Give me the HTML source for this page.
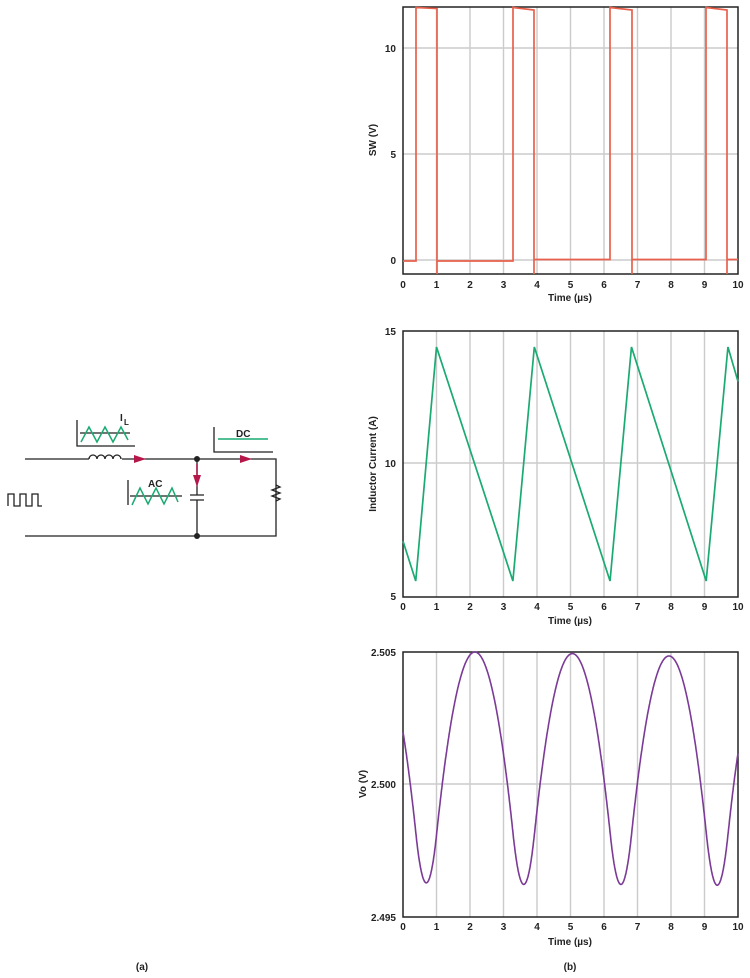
<!DOCTYPE html>
<html><head><meta charset="utf-8"><style>
body{margin:0;background:#fff;width:750px;height:978px;overflow:hidden}
svg{display:block}
text{font-family:"Liberation Sans",sans-serif;font-weight:bold;fill:#222}
.t{font-size:10px}
.g{stroke:#cbcbcb;stroke-width:1.4}
.ax{fill:none;stroke:#222;stroke-width:1.5}
</style></head><body>
<svg id="s" width="750" height="978" viewBox="0 0 750 978" xmlns="http://www.w3.org/2000/svg">
<g id="grids"></g>
<rect class="ax" x="403" y="7" width="335" height="267"/>
<text class="t" x="396" y="52" text-anchor="end">10</text>
<text class="t" x="396" y="158" text-anchor="end">5</text>
<text class="t" x="396" y="264" text-anchor="end">0</text>
<text class="t" transform="translate(376,140) rotate(-90)" text-anchor="middle">SW (V)</text>
<text class="t" x="570" y="301" text-anchor="middle">Time (µs)</text>
<polyline fill="none" stroke="#e8604c" stroke-width="1.7" points="403,261 416,261 416,7.5 437,8.5 437,274 437,261 513,261 513,7.5 534,10 534,274 534,259.5 610,259.5 610,7.5 632,10 632,274 632,259.5 706,259.5 706,7.5 727,10 727,274 727,259.5 738,259.5"/>
<rect class="ax" x="403" y="331" width="335" height="266"/>
<text class="t" x="396" y="335" text-anchor="end">15</text>
<text class="t" x="396" y="467" text-anchor="end">10</text>
<text class="t" x="396" y="600" text-anchor="end">5</text>
<text class="t" transform="translate(376,464) rotate(-90)" text-anchor="middle">Inductor Current (A)</text>
<text class="t" x="570" y="624" text-anchor="middle">Time (µs)</text>
<polyline id="il" fill="none" stroke="#1aaa72" stroke-width="1.7"/>
<rect class="ax" x="403" y="652" width="335" height="265"/>
<text class="t" x="396" y="656" text-anchor="end">2.505</text>
<text class="t" x="396" y="788" text-anchor="end">2.500</text>
<text class="t" x="396" y="921" text-anchor="end">2.495</text>
<text class="t" transform="translate(366,784) rotate(-90)" text-anchor="middle">Vo (V)</text>
<text class="t" x="570" y="945" text-anchor="middle">Time (µs)</text>
<polyline id="vo" fill="none" stroke="#7b3a96" stroke-width="1.6"/>
<text class="t" x="570" y="970" text-anchor="middle">(b)</text>
<text class="t" x="142" y="970" text-anchor="middle">(a)</text>
<g fill="none" stroke="#222" stroke-width="1.3">
<path d="M25,459 H89 M122,459 H276 V536 H25"/>
<path d="M89,459 a4,4 0 0 1 8,0 a4,4 0 0 1 8,0 a4,4 0 0 1 8,0 a4,4 0 0 1 8,0"/>
<path d="M197,459 V495 M190,495 H204 M190,500 H204 M197,500 V536"/>
<path d="M276,485 l4,2 l-8,3 l8,3 l-8,3 l8,3 l-4,2"/>
<path d="M8,506 V494 H14 V506 H20 V494 H26 V506 H32 V494 H38 V506 H42"/>
<path d="M77,420 V446 H135 M214,427 V452 H273 M128,480 V505"/>
<path d="M80,433 H130 M130,496 H182"/>
</g>
<circle cx="197" cy="459" r="3" fill="#222"/><circle cx="197" cy="536" r="3" fill="#222"/>
<g fill="#b5174a">
<path d="M134,455 L146,459 L134,463Z"/><path d="M240,455 L252,459 L240,463Z"/>
<path d="M193,475 L197,487 L201,475Z"/><path d="M197,464 V476" stroke="#b5174a" stroke-width="1.5"/>
</g>
<g fill="none" stroke="#1aaa72" stroke-width="1.5">
<polyline points="81,442 89,427 97,442 105,427 113,442 121,427 128,440"/>
<polyline points="132,505 140,488 148,504 156,488 164,504 172,488 178,502"/>
<path d="M218,439 H268"/>
</g>
<text class="t" x="120" y="421">I</text><text x="124" y="425" style="font-size:8px">L</text>
<text class="t" x="236" y="437">DC</text>
<text class="t" x="148" y="487">AC</text>
</svg>
<script>
var s=document.getElementById('grids'),ns='http://www.w3.org/2000/svg';
function line(x1,y1,x2,y2,c){var l=document.createElementNS(ns,'line');l.setAttribute('x1',x1);l.setAttribute('y1',y1);l.setAttribute('x2',x2);l.setAttribute('y2',y2);l.setAttribute('class',c);s.appendChild(l);}
function txt(x,y,t){var e=document.createElementNS(ns,'text');e.setAttribute('x',x);e.setAttribute('y',y);e.setAttribute('class','t');e.setAttribute('text-anchor','middle');e.textContent=t;s.appendChild(e);}
var charts=[[7,274,[48,154,260],288],[331,597,[463],610],[652,917,[784],930]];
charts.forEach(function(c){for(var i=0;i<=10;i++){var x=403+i*33.5;if(i>0&&i<10)line(x,c[0],x,c[1],'g');txt(x,c[3],i);}c[2].forEach(function(y){line(403,y,738,y,'g');});});
var P=[[0,7.1],[0.38,5.6],[1.0,14.4],[3.28,5.6],[3.92,14.4],[6.18,5.6],[6.82,14.4],[9.05,5.6],[9.7,14.4],[10,13.1]];
document.getElementById('il').setAttribute('points',P.map(function(p){return (403+p[0]*33.5)+','+(597-(p[1]-5)*26.6)}).join(' '));
function il(t){for(var i=0;i<P.length-1;i++){if(t<=P[i+1][0]){var a=P[i],b=P[i+1];return a[1]+(b[1]-a[1])*(t-a[0])/(b[0]-a[0]);}}return 13.1;}
var v=[],acc=0,dt=0.01;for(var t=0;t<=10.0001;t+=dt){v.push([t,acc]);acc+=(il(t)-10)*dt;}
var mn=1e9,mx=-1e9;v.forEach(function(p){mn=Math.min(mn,p[1]);mx=Math.max(mx,p[1]);});
document.getElementById('vo').setAttribute('points',v.map(function(p){var val=2.4962+(p[1]-mn)/(mx-mn)*0.0088;return (403+p[0]*33.5).toFixed(1)+','+(917-(val-2.495)*26500).toFixed(1)}).join(' '));
</script>
</body></html>
